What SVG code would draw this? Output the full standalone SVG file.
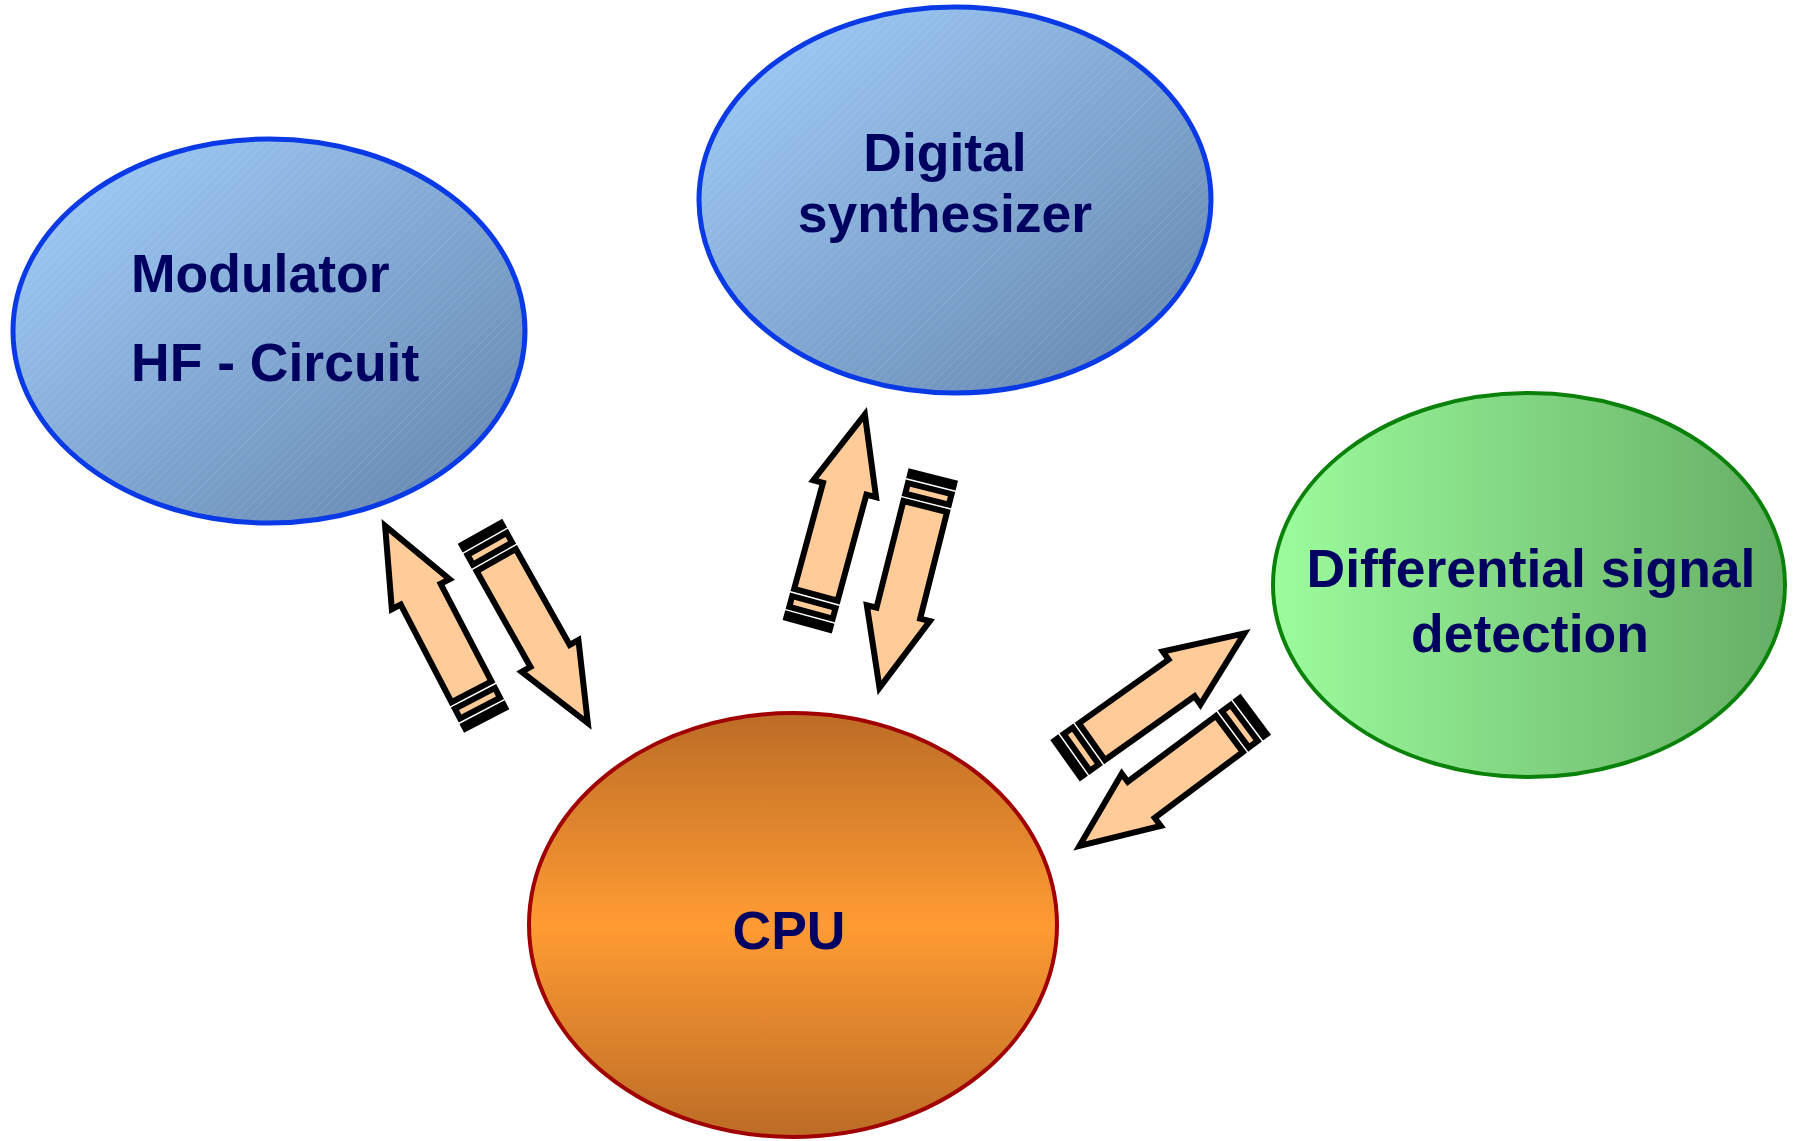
<svg xmlns="http://www.w3.org/2000/svg" width="1793" height="1141" viewBox="0 0 1793 1141">
<style>
.lbl{font-family:"Liberation Sans",Arial,sans-serif;font-weight:bold;font-size:53.5px;fill:#000060}
.arr{fill:#ffcc99;stroke:#000;stroke-width:6;stroke-linejoin:miter;stroke-miterlimit:10}
</style>
<defs>
<linearGradient id="gBlue" x1="0" y1="0" x2="1" y2="1">
<stop offset="0" stop-color="#a2d0fc"/>
<stop offset="1" stop-color="#6282ab"/>
</linearGradient>
<linearGradient id="gGreen" x1="0" y1="0" x2="1" y2="0">
<stop offset="0" stop-color="#9cfc9c"/>
<stop offset="1" stop-color="#66ae66"/>
</linearGradient>
<linearGradient id="gCpu" x1="0" y1="0" x2="0" y2="1">
<stop offset="0" stop-color="#bc6c26"/>
<stop offset="0.5" stop-color="#ff9b33"/>
<stop offset="1" stop-color="#bc6c26"/>
</linearGradient>
<pattern id="hatch" width="6" height="6" patternUnits="userSpaceOnUse" patternTransform="rotate(-45)">
<line x1="0" y1="0" x2="6" y2="0" stroke="#ffffff" stroke-opacity="0.18" stroke-width="1"/>
</pattern>
<g id="arrow">
<rect class="arr" x="3" y="-22.5" width="4" height="45"/>
<rect class="arr" x="14.5" y="-22.5" width="11" height="45"/>
<path class="arr" d="M33,-22.5 L143,-22.5 L143,-32.5 L220,0 L143,32.5 L143,22.5 L33,22.5 Z"/>
</g>
</defs>
<rect width="1793" height="1141" fill="#ffffff"/>

<g id="connectors">
<use href="#arrow" transform="translate(486.7,721) rotate(-117.5)"/>
<use href="#arrow" transform="translate(480,531.3) rotate(60.65)"/>
<use href="#arrow" transform="translate(807.2,626.7) rotate(-74.8)"/>
<use href="#arrow" transform="translate(933.3,474.5) rotate(104.15)"/>
<use href="#arrow" transform="translate(1065,760.8) rotate(-35.4)"/>
<use href="#arrow" transform="translate(1255.8,714.2) rotate(143.25)"/>
</g>

<g id="modulator">
<ellipse cx="269" cy="331" rx="256" ry="192" fill="url(#gBlue)"/>
<ellipse cx="269" cy="331" rx="256" ry="192" fill="url(#hatch)" stroke="#0a3ae6" stroke-width="5"/>
<text class="lbl" x="131" y="291.7">Modulator</text>
<text class="lbl" x="131" y="381">HF - Circuit</text>
</g>

<g id="synth">
<ellipse cx="955" cy="200" rx="256" ry="193" fill="url(#gBlue)"/>
<ellipse cx="955" cy="200" rx="256" ry="193" fill="url(#hatch)" stroke="#0a3ae6" stroke-width="5"/>
<text class="lbl" x="945" y="171" text-anchor="middle">Digital</text>
<text class="lbl" x="945" y="232" text-anchor="middle">synthesizer</text>
</g>

<g id="diff">
<ellipse cx="1529" cy="585" rx="256" ry="192" fill="url(#gGreen)" stroke="#0a820a" stroke-width="4"/>
<text class="lbl" x="1531" y="586.7" text-anchor="middle">Differential signal</text>
<text class="lbl" x="1530" y="651.7" text-anchor="middle">detection</text>
</g>

<g id="cpu">
<ellipse cx="793" cy="925" rx="264" ry="212" fill="url(#gCpu)" stroke="#a00000" stroke-width="4"/>
<text class="lbl" x="789" y="949" text-anchor="middle">CPU</text>
</g>
</svg>
